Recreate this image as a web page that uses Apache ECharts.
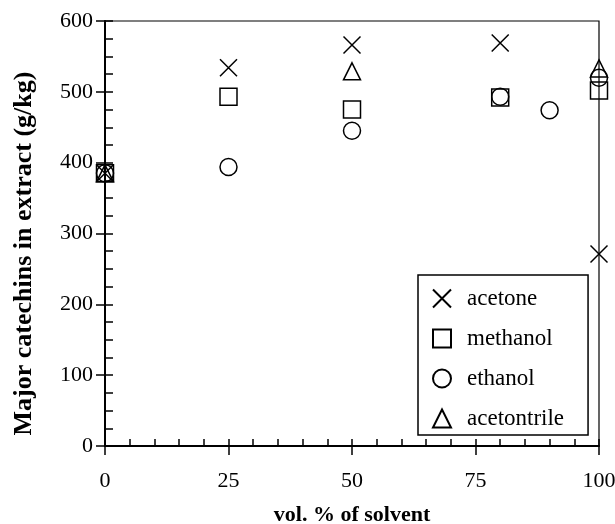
<!DOCTYPE html>
<html>
<head>
<meta charset="utf-8">
<script src="https://cdn.jsdelivr.net/npm/echarts@6/dist/echarts.min.js"></script>
<style>
  html, body { margin: 0; padding: 0; background: #fff; }
  #chart { width: 615px; height: 524px; }
</style>
</head>
<body>
<div id="chart"></div>
<script>
const seriesNames = ['acetone', 'methanol', 'ethanol', 'acetontrile'];

// [vol. % of solvent, major catechins g/kg]
const acetone = [[0, 385], [25, 534], [50, 566], [80, 569], [100, 271]];
const methanol = [[0, 385], [25, 493], [50, 475], [80, 492], [100, 502]];
const ethanol = [[0, 385], [25, 394], [50, 445], [80, 493], [90, 474], [100, 520]];
const acetontrile = [[0, 385], [50, 529], [100, 533]];

const xTicks = [0, 25, 50, 75, 100];
const yTicks = [0, 100, 200, 300, 400, 500, 600];

const font = '"Liberation Serif", "Times New Roman", serif';
const crossPath = 'path://M0,0L10,10M10,0L0,10';

const myChart = echarts.init(document.getElementById('chart'));

function markerSeries(name, data, symbol) {
  return {
    name: name,
    type: 'scatter',
    data: data,
    symbol: symbol,
    symbolSize: 17,
    xAxisIndex: 0,
    yAxisIndex: 0,
    itemStyle: {
      color: 'rgba(0,0,0,0)',
      borderColor: '#000',
      borderWidth: 1.5,
      opacity: 1,
    },
    emphasis: { disabled: true },
  };
}

const option = {
  animation: false,
  backgroundColor: '#fff',
  grid: {
    left: 105,
    right: 16,
    top: 21,
    bottom: 78,
    outerBoundsMode: 'none',
    containLabel: false,
    show: true,
    borderColor: '#000',
    borderWidth: 1.2,
  },
  legend: {
    orient: 'vertical',
    left: 418,
    top: 275,
    data: seriesNames,
    backgroundColor: '#fff',
    borderColor: '#000',
    borderWidth: 1.5,
    padding: [12, 24, 5, 14],
    itemGap: 17,
    itemWidth: 18,
    itemHeight: 18,
    textStyle: { fontFamily: font, fontSize: 23, color: '#000', padding: [0, 0, 0, 11] },
  },
  xAxis: [
    {
      type: 'value',
      min: 0,
      max: 100,
      interval: 25,
      position: 'bottom',
      name: 'vol. % of solvent',
      nameLocation: 'middle',
      nameGap: 58,
      nameTextStyle: { fontFamily: font, fontSize: 22, fontWeight: 'bold', color: '#000' },
      axisLine: { show: true, onZero: false, lineStyle: { color: '#000', width: 2 } },
      axisTick: { show: true, inside: false, length: 9, lineStyle: { color: '#000', width: 1.5 } },
      axisLabel: {
        margin: 24,
        fontFamily: font,
        fontSize: 22,
        color: '#000',
        formatter: (v) => (xTicks.includes(v) ? String(v) : ''),
      },
      splitLine: { show: false },
    },
    {
      type: 'value',
      min: 0,
      max: 100,
      interval: 5,
      position: 'bottom',
      axisLine: { show: false, onZero: false },
      axisTick: { show: true, inside: true, length: 7, lineStyle: { color: '#000', width: 1.5 } },
      axisLabel: { show: false },
      splitLine: { show: false },
    },
  ],
  yAxis: [
    {
      type: 'value',
      min: 0,
      max: 600,
      interval: 100,
      position: 'left',
      name: 'Major catechins in extract (g/kg)',
      nameLocation: 'middle',
      nameGap: 68,
      nameTextStyle: {
        fontFamily: font,
        fontSize: 26,
        fontWeight: 'bold',
        color: '#000',
        padding: [0, 40, 0, 0],
      },
      axisLine: { show: true, onZero: false, lineStyle: { color: '#000', width: 2 } },
      axisTick: { show: true, inside: false, length: 9, lineStyle: { color: '#000', width: 1.5 } },
      axisLabel: {
        margin: 12,
        fontFamily: font,
        fontSize: 22,
        color: '#000',
        formatter: (v) => (yTicks.includes(v) ? String(v) : ''),
      },
      splitLine: { show: false },
    },
    {
      type: 'value',
      min: 0,
      max: 600,
      interval: 25,
      position: 'left',
      axisLine: { show: false, onZero: false },
      axisTick: { show: true, inside: true, length: 8, lineStyle: { color: '#000', width: 1.5 } },
      axisLabel: { show: false },
      splitLine: { show: false },
    },
  ],
  series: [
    markerSeries('acetone', acetone, crossPath),
    markerSeries('methanol', methanol, 'rect'),
    markerSeries('ethanol', ethanol, 'circle'),
    markerSeries('acetontrile', acetontrile, 'triangle'),
  ],
};

myChart.setOption(option);
</script>
</body>
</html>
